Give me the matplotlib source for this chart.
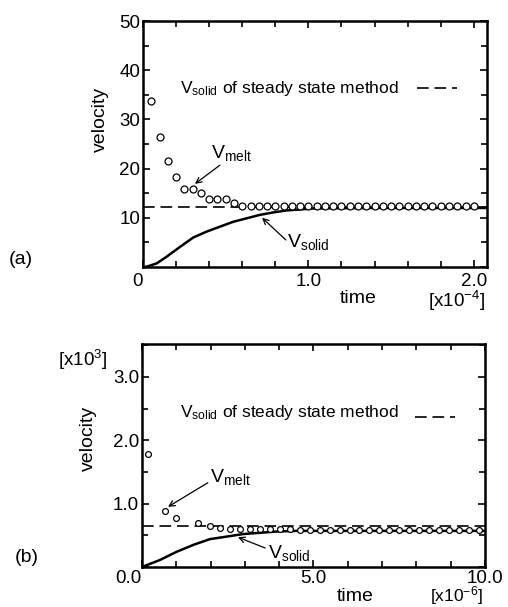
import numpy as np
import matplotlib.pyplot as plt
from matplotlib.ticker import MultipleLocator

plt.rcParams['font.family'] = ['Liberation Sans', 'DejaVu Sans']
plt.rcParams['mathtext.fontset'] = 'custom'
plt.rcParams['mathtext.rm'] = 'Liberation Sans'
plt.rcParams['mathtext.it'] = 'Liberation Sans'

# ---- panel (a): time in units of 1e-4 ----
t_melt_a = [0.05, 0.10, 0.15, 0.20, 0.25, 0.30, 0.35, 0.40, 0.45, 0.50,
            0.55, 0.60, 0.65, 0.70, 0.75, 0.80, 0.85, 0.90, 0.95, 1.00,
            1.05, 1.10, 1.15, 1.20, 1.25, 1.30, 1.35, 1.40, 1.45, 1.50,
            1.55, 1.60, 1.65, 1.70, 1.75, 1.80, 1.85, 1.90, 1.95, 2.00]
v_melt_a = [33.7, 26.4, 21.5, 18.3, 15.9, 15.9, 15.1, 13.8, 13.8, 13.8,
            13.1, 12.4, 12.4, 12.4, 12.4, 12.4, 12.3, 12.4, 12.3, 12.3,
            12.4, 12.3, 12.3, 12.4, 12.3, 12.3, 12.3, 12.3, 12.3, 12.3,
            12.3, 12.3, 12.3, 12.3, 12.3, 12.3, 12.3, 12.3, 12.3, 12.3]
t_solid_a = [0.0, 0.022, 0.083, 0.143, 0.224, 0.304, 0.385, 0.465, 0.546,
             0.627, 0.707, 0.788, 0.868, 0.949, 1.03, 1.39, 2.08]
v_solid_a = [0.0, 0.07, 0.74, 2.1, 4.1, 6.0, 7.2, 8.2, 9.2,
             9.9, 10.6, 11.1, 11.5, 11.7, 11.9, 12.0, 12.0]
v_steady_a = 12.2

# ---- panel (b): time in units of 1e-6, velocity in units of 1e3 ----
t_melt_b = [0.18, 0.67, 0.99, 1.64, 1.98, 2.27, 2.57, 2.86, 3.15, 3.44,
            3.73, 4.02, 4.31, 4.60, 4.89, 5.18, 5.47, 5.76, 6.05, 6.34,
            6.63, 6.92, 7.21, 7.50, 7.79, 8.08, 8.37, 8.66, 8.95, 9.24,
            9.53, 9.82]
v_melt_b = [1.78, 0.89, 0.77, 0.70, 0.64, 0.61, 0.60, 0.60, 0.60, 0.60,
            0.60, 0.60, 0.60, 0.59, 0.59, 0.59, 0.59, 0.59, 0.59, 0.59,
            0.59, 0.59, 0.59, 0.59, 0.59, 0.59, 0.59, 0.59, 0.59, 0.59,
            0.59, 0.59]
t_solid_b = [0.0, 0.52, 1.01, 1.50, 1.98, 2.47, 2.95, 3.44, 3.93, 4.5, 10.0]
v_solid_b = [0.0, 0.11, 0.24, 0.35, 0.44, 0.48, 0.52, 0.54, 0.56, 0.57, 0.57]
v_steady_b = 0.65

label_solid = r'V$_{\mathregular{solid}}$'
label_melt = r'V$_{\mathregular{melt}}$'

fig = plt.figure(figsize=(5.08, 6.07), dpi=100)
ax1 = fig.add_axes([0.2815, 0.5601, 0.6772, 0.4053])
ax2 = fig.add_axes([0.2795, 0.0659, 0.6752, 0.3674])

arrow = dict(arrowstyle='->', color='black', lw=0.9, shrinkA=0, shrinkB=0)


def style_axes(ax, xpad):
    for s in ax.spines.values():
        s.set_linewidth(1.8)
    ax.tick_params(which='both', direction='in', top=True, right=True,
                   width=1.2, labelsize=13.5)
    ax.tick_params(which='major', length=5)
    ax.tick_params(which='minor', length=4)
    ax.tick_params(axis='y', pad=2)
    ax.tick_params(axis='x', pad=xpad)


# panel (a)
ax1.axhline(v_steady_a, color='black', lw=1.2, ls=(0, (7, 3.5)))
ax1.plot(t_solid_a, v_solid_a, color='black', lw=1.8)
ax1.plot(t_melt_a, v_melt_a, 'o', mfc='white', mec='black', ms=5, mew=0.9)
ax1.set_xlim(0, 2.08)
ax1.set_ylim(0, 50)
ax1.xaxis.set_minor_locator(MultipleLocator(0.2))
ax1.yaxis.set_minor_locator(MultipleLocator(5))
ax1.set_xticks([0, 1.0, 2.0])
ax1.set_xticklabels(['0', '1.0', '2.0'])
ax1.set_yticks([0, 10, 20, 30, 40, 50])
ax1.set_yticklabels(['', '10', '20', '30', '40', '50'])
ax1.get_xticklabels()[0].set_horizontalalignment('right')
style_axes(ax1, 4)
ax1.text(-0.125, 0.598, 'velocity', transform=ax1.transAxes, rotation=90,
         ha='center', va='center', fontsize=14)
ax1.text(0.625, -0.128, 'time', transform=ax1.transAxes, ha='center',
         va='center', fontsize=14)
ax1.text(0.994, -0.136, r'[x10$^{-4}$]', transform=ax1.transAxes,
         ha='right', va='center', fontsize=13.5)
ax1.text(0.224, 35.4, label_solid + ' of steady state method', fontsize=12.5,
         va='baseline')
ax1.plot([1.656, 1.897], [36.4, 36.4], color='black', lw=1.2, ls=(0, (7, 3.5)))
ax1.text(0.41, 22.2, label_melt, fontsize=14, va='baseline')
ax1.annotate('', xy=(0.314, 16.9), xytext=(0.465, 20.7), arrowprops=arrow)
ax1.text(0.87, 4.1, label_solid, fontsize=14, va='baseline')
ax1.annotate('', xy=(0.72, 10.0), xytext=(0.864, 5.5), arrowprops=arrow)

# panel (b)
ax2.axhline(v_steady_b, color='black', lw=1.2, ls=(0, (7, 3.5)))
ax2.plot(t_solid_b, v_solid_b, color='black', lw=1.8)
ax2.plot(t_melt_b, v_melt_b, 'o', mfc='white', mec='black', ms=4.2, mew=0.9)
ax2.set_xlim(0, 10.0)
ax2.set_ylim(0, 3.52)
ax2.xaxis.set_minor_locator(MultipleLocator(1.0))
ax2.yaxis.set_minor_locator(MultipleLocator(0.5))
ax2.set_xticks([0, 5.0, 10.0])
ax2.set_xticklabels(['0.0', '5.0', '10.0'])
ax2.set_yticks([0, 1.0, 2.0, 3.0])
ax2.set_yticklabels(['', '1.0', '2.0', '3.0'])
ax2.get_xticklabels()[0].set_horizontalalignment('right')
style_axes(ax2, 2)
ax2.text(-0.157, 0.578, 'velocity', transform=ax2.transAxes, rotation=90,
         ha='center', va='center', fontsize=14)
ax2.text(-0.245, 0.928, r'[x10$^{3}$]', transform=ax2.transAxes,
         ha='left', va='center', fontsize=13.5)
ax2.text(0.621, -0.133, 'time', transform=ax2.transAxes, ha='center',
         va='center', fontsize=14)
ax2.text(0.994, -0.129, r'[x10$^{-6}$]', transform=ax2.transAxes,
         ha='right', va='center', fontsize=12.5)
ax2.text(1.11, 2.37, label_solid + ' of steady state method', fontsize=12.5,
         va='baseline')
ax2.plot([7.96, 9.13], [2.37, 2.37], color='black', lw=1.2, ls=(0, (7, 3.5)))
ax2.text(1.98, 1.34, label_melt, fontsize=14, va='baseline')
ax2.annotate('', xy=(0.76, 0.95), xytext=(1.92, 1.33), arrowprops=arrow)
ax2.text(3.67, 0.14, label_solid, fontsize=14, va='baseline')
ax2.annotate('', xy=(2.8, 0.47), xytext=(3.59, 0.30), arrowprops=arrow)

fig.text(0.041, 0.573, '(a)', ha='center', va='center', fontsize=14)
fig.text(0.053, 0.081, '(b)', ha='center', va='center', fontsize=14)

fig.savefig('out.png', dpi=100)
plt.close(fig)
